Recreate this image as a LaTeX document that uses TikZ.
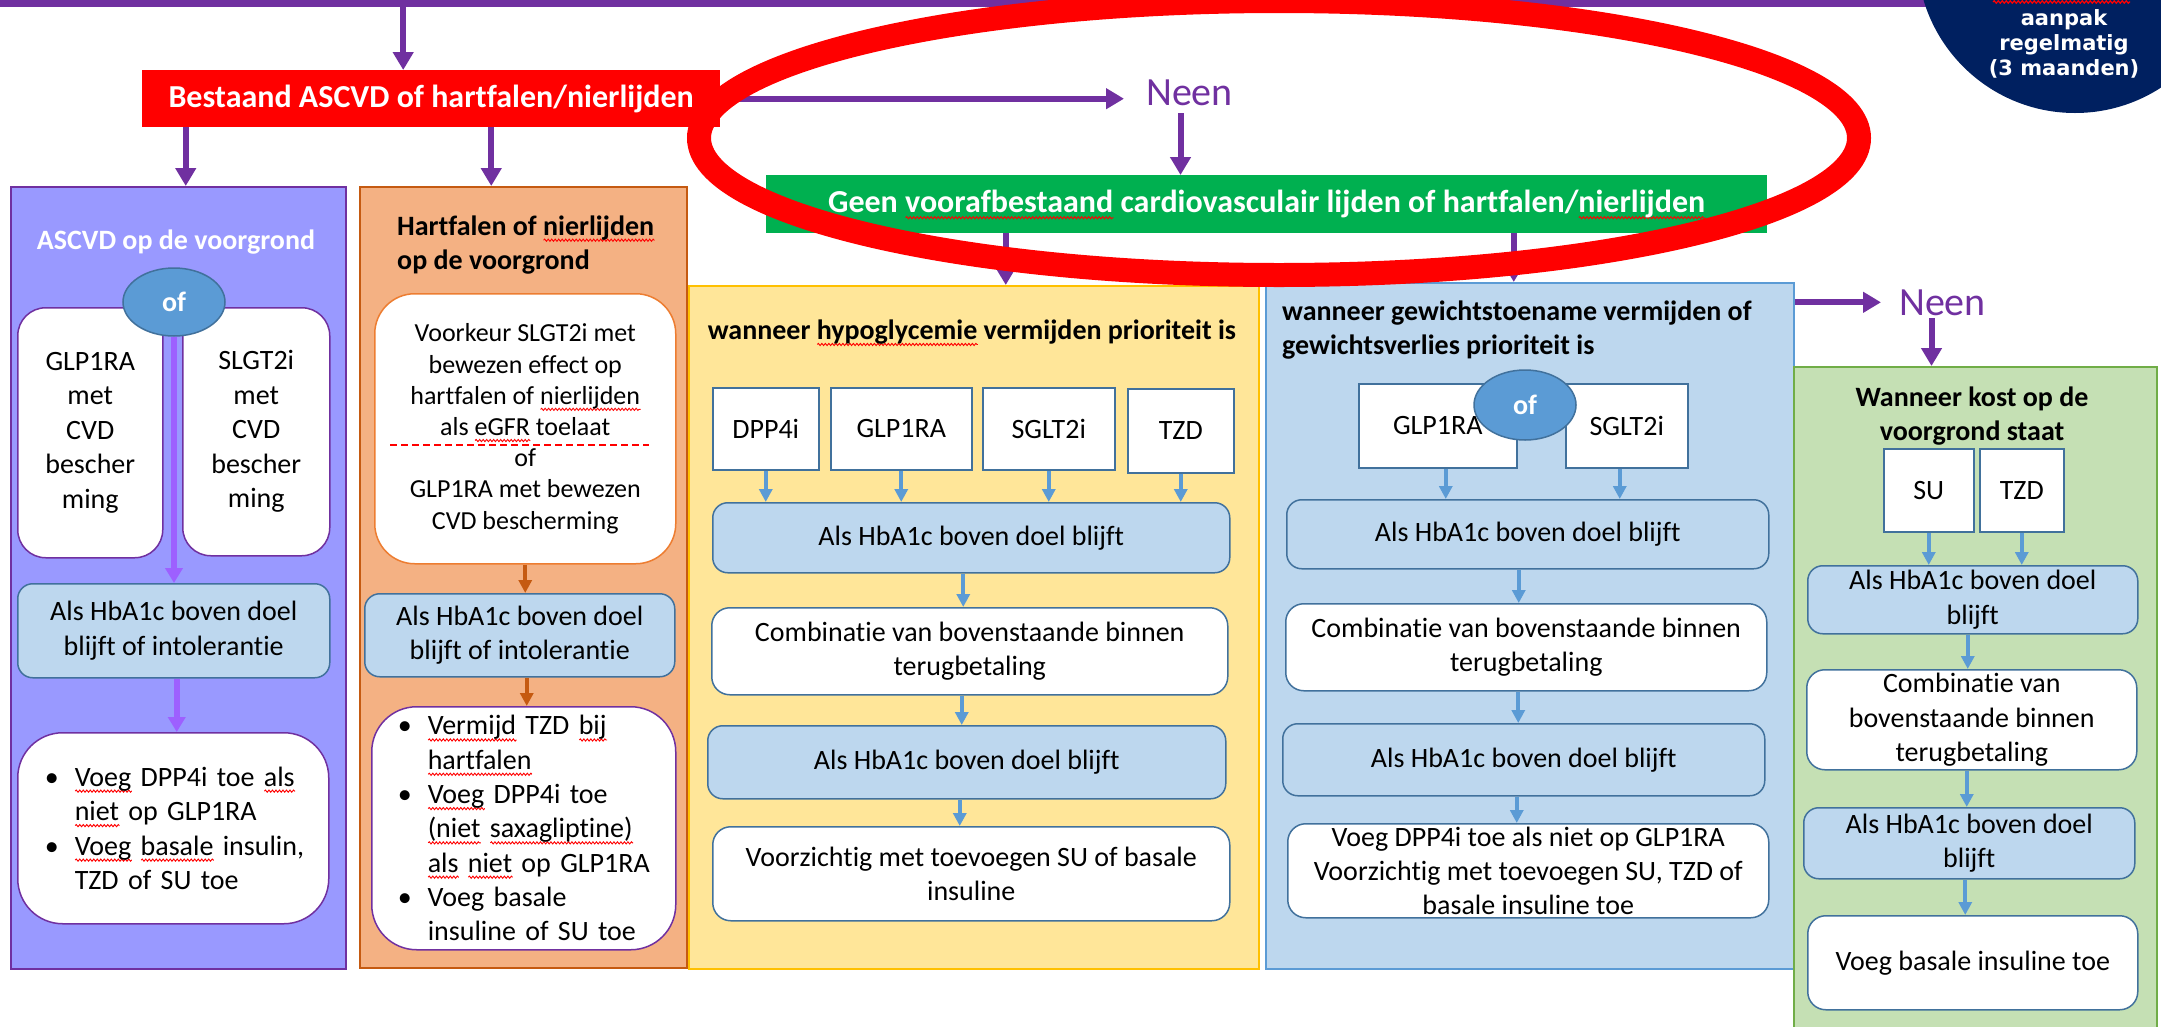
\documentclass[tikz,border=0pt]{standalone}
\usepackage{fontspec}
\setmainfont{Carlito}[Ligatures=NoCommon]
\newfontfamily\circfont{DejaVu Sans}
\usetikzlibrary{arrows.meta,shapes.geometric,calc,decorations.pathmorphing}
\definecolor{pur}{HTML}{7030A0}
\definecolor{lpurfill}{HTML}{9999FF}
\definecolor{lpar}{HTML}{9D60FF}
\definecolor{ofill}{HTML}{F4B183}
\definecolor{oline}{HTML}{C55A11}
\definecolor{owline}{HTML}{ED7D31}
\definecolor{yfill}{HTML}{FFE699}
\definecolor{yline}{HTML}{FFC000}
\definecolor{bfill}{HTML}{BDD7EE}
\definecolor{bline}{HTML}{41719C}
\definecolor{barr}{HTML}{5B9BD5}
\definecolor{bcline}{HTML}{5B9BD5}
\definecolor{gfill}{HTML}{C5E0B4}
\definecolor{gline}{HTML}{70AD47}
\definecolor{grn}{HTML}{00B050}
\definecolor{navy}{HTML}{002060}
\newlength\sqlen
\newcommand\sq[1]{\settowidth\sqlen{#1}\leavevmode\rlap{\smash{\tikz[baseline=0pt]\draw[sharp corners,red,line width=0.9pt,decorate,decoration={snake,amplitude=1.1pt,segment length=3.5pt}] (0pt,-5pt) -- (\sqlen,-5pt);}}#1}
\newcommand\fA{\fontsize{28}{34.5}\selectfont}
\newcommand\fS{\fontsize{26}{31.2}\selectfont}
\newcommand\fT{\fontsize{32}{38}\selectfont}
\newcommand\fN{\fontsize{40}{48}\selectfont}
\newcommand\bul{\makebox[30pt][l]{\textbullet}}
\newcommand\bulind{\hspace*{30pt}}
\begin{document}
\begin{tikzpicture}[x=1pt,y=-1pt,
  colbox/.style={draw, line width=1.5pt, inner sep=0pt, anchor=north west},
  wbox/.style={draw=bline, fill=white, line width=1.5pt, anchor=north west, align=center, inner xsep=4pt, inner ysep=0pt, font=\fA},
  hbbox/.style={wbox, fill=bfill, rounded corners=15pt},
  rwbox/.style={wbox, rounded corners=18pt},
  drug/.style={wbox},
  orbox/.style={ellipse, fill=barr, draw=bline, line width=1.5pt, minimum width=102pt, minimum height=68pt, inner sep=0pt, text=white, font=\fA\bfseries},
  parr/.style={draw=pur, line width=6pt, -{Triangle[width=20pt,length=18pt]}},
  lparr/.style={draw=lpar, line width=6pt, -{Triangle[width=17pt,length=15pt]}},
  oarr/.style={draw=oline, line width=4pt, -{Triangle[width=13pt,length=13pt]}},
  barrow/.style={draw=barr, line width=4pt, -{Triangle[width=13pt,length=13pt]}},
  neen/.style={text=pur, font=\fN, inner sep=0pt, anchor=base west}
]
\useasboundingbox (0,0) rectangle (2161,1026);
\fill[white] (0,0) rectangle (2161,1026);

% top bar and circle
\node[fill=pur, inner sep=0pt, minimum width=1935pt, minimum height=7pt, anchor=north west] (bar) at (0,0) {};
\node[circle, fill=navy, minimum size=316pt, inner sep=0pt] (circ) at (2075,-45) {};
\node[text=white, font=\circfont\bfseries\fontsize{21}{25}\selectfont, align=center] (circtxt) at (2064,44) {aanpak\\regelmatig\\(3 maanden)};
\draw[red, line width=1.2pt, decorate, decoration={snake, amplitude=1.2pt, segment length=4pt}] (1993,2) -- (2130,2);

% red box
\node[fill=red, minimum width=578pt, minimum height=57pt, anchor=north west, text=white, font=\fT\bfseries] (rd) at (142,70) {Bestaand ASCVD of hartfalen/\sq{nierlijden}};
\draw[parr] ([xshift=-28pt]rd.north |- bar.south) -- ([xshift=-28pt]rd.north);

% Neen 1 and green box
\node[neen] (n1) at (1146,105) {Neen};
\draw[parr, shorten >=22pt] (rd.east) -- (rd.east -| n1.west);
\node[fill=grn, minimum width=1001pt, minimum height=58pt, anchor=north west, text=white, font=\fT\bfseries] (gr) at (766,175) {Geen \sq{voorafbestaand} cardiovasculair lijden of hartfalen/\sq{nierlijden}};
\draw[parr, shorten <=8pt] ([xshift=-9pt]n1.south) -- ([xshift=-9pt]n1.south |- gr.north);

% columns
\node[colbox, fill=lpurfill, draw=pur, minimum width=335pt, minimum height=782pt] (pc) at (10,186) {};
\node[colbox, fill=ofill, draw=oline, minimum width=327pt, minimum height=781pt] (oc) at (359,186) {};
\node[colbox, fill=yfill, draw=yline, minimum width=570pt, minimum height=683pt] (yc) at (688,285) {};
\node[colbox, fill=bfill, draw=bcline, minimum width=528pt, minimum height=686pt] (bc) at (1265,282) {};
\node[colbox, fill=gfill, draw=gline, minimum width=363pt, minimum height=700pt] (gc) at (1793,366) {};

\draw[parr] ([xshift=7.5pt]pc.north |- rd.south) -- ([xshift=7.5pt]pc.north);
\draw[parr] ([xshift=-32pt]oc.north |- rd.south) -- ([xshift=-32pt]oc.north);
\draw[parr] ([xshift=32pt]yc.north |- gr.south) -- ([xshift=32pt]yc.north);
\draw[parr] ([xshift=-16pt]bc.north |- gr.south) -- ([xshift=-16pt]bc.north);

% Neen 2
\node[neen] (n2) at (1899,315) {Neen};
\draw[parr, shorten >=18pt] (n2.west -| bc.east) -- (n2.west);
\draw[parr, shorten <=3pt] ([xshift=-11pt]n2.south) -- ([xshift=-11pt]n2.south |- gc.north);

% ---- purple column
\node[text=white, font=\fA\bfseries] (pht) at (176,242) {ASCVD op de voorgrond};
\node[wbox, draw=pur, rounded corners=28pt, minimum width=145pt, minimum height=250pt] (pw1) at (17,307) {GLP1RA\\met\\CVD\\bescher\\ming};
\node[wbox, draw=pur, rounded corners=28pt, minimum width=147pt, minimum height=248pt] (pw2) at (182,307) {SLGT2i\\met\\CVD\\bescher\\ming};
\node[hbbox, minimum width=312pt, minimum height=94pt] (ph1) at (17,583) {Als HbA1c boven doel\\blijft of intolerantie};
\node[orbox] (of1) at (174,302) {of};
\draw[lparr] (of1.south) -- (of1.south |- ph1.north);
\node[wbox, draw=pur, rounded corners=45pt, minimum height=191pt, text width=257pt, inner xsep=27pt, align=left] (pb1) at (17,732) {\mbox{\bul\sq{Voeg} DPP4i toe \sq{als}}\\\mbox{\bulind\sq{niet} op GLP1RA}\\\mbox{\bul\sq{Voeg} \sq{basale} insulin,}\\\mbox{\bulind TZD of SU toe}};
\draw[lparr] ([xshift=3pt]ph1.south) -- ([xshift=3pt]ph1.south |- pb1.north);

% ---- orange column
\node[font=\fA\bfseries, align=left, anchor=west, inner sep=0pt] (oht) at (397,245) {Hartfalen of \sq{nierlijden}\\op de voorgrond};
\node[wbox, draw=owline, rounded corners=40pt, minimum width=301pt, minimum height=270pt, font=\fS] (ow1) at (374,293) {Voorkeur SLGT2i met\\bewezen effect op\\hartfalen of \sq{nierlijden}\\als \sq{eGFR} toelaat\\of\\GLP1RA met bewezen\\CVD bescherming};
\draw[red, line width=1.5pt, dash pattern=on 7pt off 4pt] ($(ow1.north west)+(16,152)$) -- ($(ow1.north east)+(-28,152)$);
\node[hbbox, minimum width=310pt, minimum height=83pt] (oh1) at (364,593) {Als HbA1c boven doel\\blijft of intolerantie};
\draw[oarr] (ow1.south) -- (ow1.south |- oh1.north);
\node[wbox, draw=pur, rounded corners=45pt, minimum height=243pt, text width=252pt, inner xsep=26pt, align=left, font=\fontsize{28}{34.3}\selectfont] (ob1) at (371,706) {\mbox{\bul\sq{Vermijd} TZD \sq{bij}}\\\mbox{\bulind\sq{hartfalen}}\\\mbox{\bul\sq{Voeg} DPP4i toe}\\\mbox{\bulind\sq{(niet} \sq{saxagliptine)}}\\\mbox{\bulind\sq{als} \sq{niet} op GLP1RA}\\\mbox{\bul Voeg basale}\\\mbox{\bulind insuline of SU toe}};
\draw[oarr] ([xshift=7pt]oh1.south) -- ([xshift=7pt]oh1.south |- ob1.north);

% ---- yellow column
\node[font=\fA\bfseries] (yht) at (972,332) {wanneer \sq{hypoglycemie} vermijden prioriteit is};
\node[drug, minimum width=106pt, minimum height=82pt] (y1) at (712,387) {DPP4i};
\node[drug, minimum width=141pt, minimum height=82pt] (y2) at (830,387) {GLP1RA};
\node[drug, minimum width=132pt, minimum height=82pt] (y3) at (982,387) {SGLT2i};
\node[drug, minimum width=106pt, minimum height=84pt] (y4) at (1127,388) {TZD};
\node[hbbox, minimum width=517pt, minimum height=70pt] (yh1) at (712,502) {Als HbA1c boven doel blijft};
\foreach \n in {y1,y2,y3,y4} \draw[barrow] (\n.south) -- (\n.south |- yh1.north);
\node[rwbox, minimum width=516pt, minimum height=87pt] (yc1) at (711,607) {Combinatie van bovenstaande binnen\\terugbetaling};
\node[hbbox, minimum width=518pt, minimum height=73pt] (yh2) at (707,725) {Als HbA1c boven doel blijft};
\node[rwbox, minimum width=517pt, minimum height=94pt] (yv) at (712,826) {Voorzichtig met toevoegen SU of basale\\insuline};
\draw[barrow] ([xshift=-8pt]yh1.south) -- ([xshift=-8pt]yh1.south |- yc1.north);
\draw[barrow] ([xshift=-8pt]yc1.south) -- ([xshift=-8pt]yc1.south |- yh2.north);
\draw[barrow] ([xshift=-7pt]yh2.south) -- ([xshift=-7pt]yh2.south |- yv.north);

% ---- blue column
\node[font=\fA\bfseries, align=left, anchor=west, inner sep=0pt] (bht) at (1282,330) {wanneer gewichtstoename vermijden of\\gewichtsverlies prioriteit is};
\node[drug, minimum width=158pt, minimum height=84pt] (b1) at (1358,383) {GLP1RA};
\node[drug, minimum width=122pt, minimum height=84pt] (b2) at (1565,383) {SGLT2i};
\node[orbox, minimum height=70pt] (of2) at (1525,405) {of};
\node[hbbox, minimum width=482pt, minimum height=69pt] (bh1) at (1286,499) {Als HbA1c boven doel blijft};
\draw[barrow] ([xshift=8pt]b1.south) -- ([xshift=8pt]b1.south |- bh1.north);
\draw[barrow] ([xshift=-7pt]b2.south) -- ([xshift=-7pt]b2.south |- bh1.north);
\node[rwbox, minimum width=481pt, minimum height=87pt] (bc1) at (1285,603) {Combinatie van bovenstaande binnen\\terugbetaling};
\node[hbbox, minimum width=482pt, minimum height=72pt] (bh2) at (1282,723) {Als HbA1c boven doel blijft};
\node[rwbox, minimum width=481pt, minimum height=94pt, font=\fontsize{28}{34}\selectfont] (bv) at (1287,823) {Voeg DPP4i toe als niet op GLP1RA\\Voorzichtig met toevoegen SU, TZD of\\basale insuline toe};
\draw[barrow] ([xshift=-9pt]bh1.south) -- ([xshift=-9pt]bh1.south |- bc1.north);
\draw[barrow] ([xshift=-8pt]bc1.south) -- ([xshift=-8pt]bc1.south |- bh2.north);
\draw[barrow] ([xshift=-7pt]bh2.south) -- ([xshift=-7pt]bh2.south |- bv.north);

% ---- green column
\node[font=\fA\bfseries, align=center] (ght) at (1972,416) {Wanneer kost op de\\voorgrond staat};
\node[drug, minimum width=90pt, minimum height=83pt] (g1) at (1883,448) {SU};
\node[drug, minimum width=84pt, minimum height=83pt] (g2) at (1979,448) {TZD};
\node[hbbox, minimum width=330pt, minimum height=68pt] (gh1) at (1807,565) {Als HbA1c boven doel\\blijft};
\draw[barrow] (g1.south) -- (g1.south |- gh1.north);
\draw[barrow] (g2.south) -- (g2.south |- gh1.north);
\node[rwbox, minimum width=330pt, minimum height=100pt] (gc1) at (1806,669) {Combinatie van\\bovenstaande binnen\\terugbetaling};
\node[hbbox, minimum width=331pt, minimum height=71pt] (gh2) at (1803,807) {Als HbA1c boven doel\\blijft};
\node[rwbox, minimum width=330pt, minimum height=94pt] (gv) at (1807,915) {Voeg basale insuline toe};
\draw[barrow] ([xshift=-5pt]gh1.south) -- ([xshift=-5pt]gh1.south |- gc1.north);
\draw[barrow] ([xshift=-5pt]gc1.south) -- ([xshift=-5pt]gc1.south |- gh2.north);
\draw[barrow] ([xshift=-4pt]gh2.south) -- ([xshift=-4pt]gh2.south |- gv.north);

% red highlight ellipse
\draw[red, line width=24pt] (1279,138) ellipse [x radius=580pt, y radius=137pt];
\end{tikzpicture}
\end{document}
